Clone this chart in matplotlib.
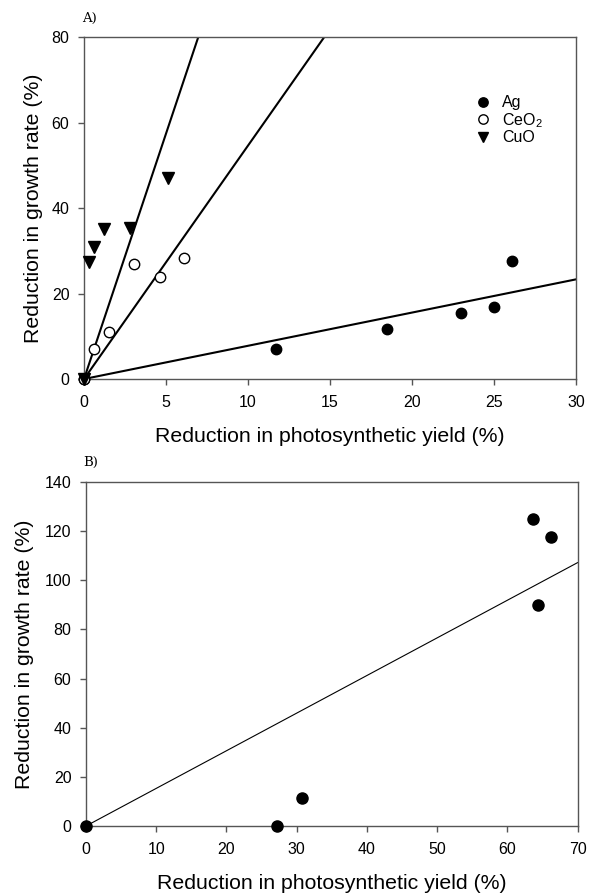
import numpy as np
import matplotlib
matplotlib.use('Agg')
import matplotlib.pyplot as plt

plt.rcParams['font.family'] = ['Liberation Sans', 'DejaVu Sans']
plt.rcParams['mathtext.fontset'] = 'custom'
plt.rcParams['mathtext.rm'] = 'Liberation Sans'
plt.rcParams['mathtext.it'] = 'Liberation Sans:italic'

######## Panel A data (reduction in photosynthetic yield vs growth rate)
agX = [0, 11.7, 18.5, 23.0, 25.0, 26.1]
agY = [0, 7.0, 11.6, 15.5, 16.9, 27.7]
ceX = [0, 0.63, 1.52, 3.07, 4.61, 6.12]
ceY = [0, 7.0, 10.9, 26.8, 23.9, 28.3]
cuX = [0, 0.33, 0.63, 1.2, 2.8, 5.14]
cuY = [0, 27.4, 30.9, 35.2, 35.4, 47.0]
# fitted slopes (through origin)
agSlope = 0.777
ceSlope = 5.46
cuSlope = 11.48

######## Panel B data
bX = [0, 27.2, 30.7, 63.6, 64.3, 66.2]
bY = [0, 0, 11.5, 125.1, 90.0, 117.8]
bSlope = 1.531

spineColor = '#555555'
tickSize = 11.5
labelSize = 15.3

fig = plt.figure(figsize=(5.98, 8.96), dpi=100)


def styleAxes(ax):
	for s in ax.spines.values():
		s.set_color(spineColor)
		s.set_linewidth(1.0)
	ax.tick_params(direction='out', length=4, width=1.0, color=spineColor, labelsize=tickSize)
	ax.tick_params(axis='x', pad=7.5)
	ax.tick_params(axis='y', pad=6.5)


######## First Plot
ax1 = fig.add_axes([0.1405, 0.577, 0.8227, 0.3817])
lineX = np.array([0, 30])
ax1.plot(lineX, agSlope*lineX, 'k-', linewidth=1.5, zorder=2)
ax1.plot(lineX, ceSlope*lineX, 'k-', linewidth=1.5, zorder=2)
ax1.plot(lineX, cuSlope*lineX, 'k-', linewidth=1.5, zorder=2)
ax1.plot(agX, agY, 'ko', markersize=7.5, linestyle='none', label='Ag', zorder=3, clip_on=False)
ax1.plot(ceX, ceY, 'o', markersize=7.5, markerfacecolor='white', markeredgecolor='black',
	markeredgewidth=1.0, linestyle='none', label='CeO$_2$', zorder=3, clip_on=False)
ax1.plot(cuX, cuY, 'kv', markersize=8, linestyle='none', label='CuO', zorder=3, clip_on=False)
ax1.set_xlim(0, 30)
ax1.set_ylim(0, 80)
ax1.set_xticks([0, 5, 10, 15, 20, 25, 30])
ax1.set_yticks([0, 20, 40, 60, 80])
ax1.set_xlabel('Reduction in photosynthetic yield (%)', fontsize=labelSize, labelpad=12.5)
ax1.set_ylabel('Reduction in growth rate (%)', fontsize=labelSize, labelpad=6)
styleAxes(ax1)
ax1.legend(loc='upper left', bbox_to_anchor=(0.765, 0.872), frameon=False, fontsize=11.5,
	handlelength=1.0, handletextpad=0.7, labelspacing=0.05, markerscale=0.9)
fig.text(0.137, 0.975, 'A)', family='DejaVu Serif', fontsize=9.5)


######## Second Plot
ax2 = fig.add_axes([0.1438, 0.0781, 0.822, 0.384])
lineX = np.array([0, 70])
ax2.plot(lineX, bSlope*lineX, 'k-', linewidth=0.8, zorder=2)
ax2.plot(bX, bY, 'ko', markersize=8, linestyle='none', zorder=3, clip_on=False)
ax2.set_xlim(0, 70)
ax2.set_ylim(0, 140)
ax2.set_xticks(np.arange(0, 80, 10))
ax2.set_yticks(np.arange(0, 160, 20))
ax2.set_xlabel('Reduction in photosynthetic yield (%)', fontsize=labelSize, labelpad=12.5)
ax2.set_ylabel('Reduction in growth rate (%)', fontsize=labelSize, labelpad=8)
styleAxes(ax2)
fig.text(0.14, 0.48, 'B)', family='DejaVu Serif', fontsize=9.5)

fig.savefig('out.png', dpi=100)
